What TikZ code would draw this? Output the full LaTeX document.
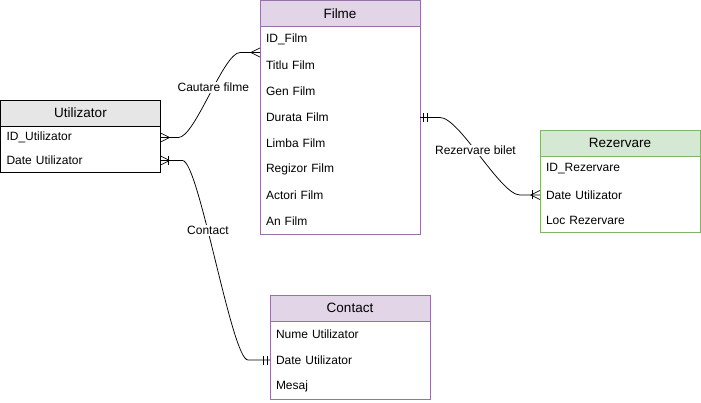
\documentclass[tikz,border=0pt]{standalone}
\usepackage{fontspec}
\setmainfont{Liberation Sans}
\usetikzlibrary{positioning,decorations.markings}

\definecolor{purpleFill}{HTML}{E1D5E7}
\definecolor{purpleLine}{HTML}{9673A6}
\definecolor{greenFill}{HTML}{D5E8D4}
\definecolor{greenLine}{HTML}{82B366}
\definecolor{greyFill}{HTML}{E6E6E6}

\tikzset{
  head/.style={draw, line width=0.75pt, minimum width=160pt, minimum height=26pt,
    inner sep=0pt, outer sep=0pt, anchor=north west, font=\fontsize{13.5}{16}\selectfont},
  row/.style={text width=148pt, inner xsep=6pt, inner ysep=0pt, outer sep=0pt,
    minimum height=26pt, align=left, font=\fontsize{12}{14}\selectfont},
  frame/.style={line width=0.75pt},
  rel/.style={line width=0.75pt},
  lbl/.style={fill=white, inner sep=1pt, font=\fontsize{12}{14}\selectfont},
  % crow's foot and bars at the ends of the relations
  manyStart/.style={postaction={decorate,decoration={markings,
    mark=at position 0.1pt with {\draw[rel] (0,4.5) -- (9,0) -- (0,-4.5);}}}},
  manyEnd/.style={postaction={decorate,decoration={markings,
    mark=at position -0.1pt with {\draw[rel] (0,4.5) -- (-9,0) -- (0,-4.5);}}}},
  oneManyStart/.style={manyStart, postaction={decorate,decoration={markings,
    mark=at position 0.1pt with {\draw[rel] (8,4.5) -- (8,-4.5);}}}},
  oneManyEnd/.style={manyEnd, postaction={decorate,decoration={markings,
    mark=at position -0.1pt with {\draw[rel] (-8,4.5) -- (-8,-4.5);}}}},
  mandOneStart/.style={postaction={decorate,decoration={markings,
    mark=at position 0.1pt with {\draw[rel] (3,4.5) -- (3,-4.5) (7,4.5) -- (7,-4.5);}}}},
  mandOneEnd/.style={postaction={decorate,decoration={markings,
    mark=at position -0.1pt with {\draw[rel] (-3,4.5) -- (-3,-4.5) (-7,4.5) -- (-7,-4.5);}}}},
}

\begin{document}
\begin{tikzpicture}[x=1pt, y=-1pt]
  \useasboundingbox (0,0) rectangle (701,403);

  % Utilizator
  \node[head, fill=greyFill] (util) at (0.5,100) {Utilizator};
  \node[row, minimum height=23pt, below=0pt of util] (utilId) {ID\_Utilizator};
  \node[row, minimum height=23pt, below=0pt of utilId] (utilDate) {Date Utilizator};
  \draw[frame] (util.north west) rectangle (utilDate.south east);

  % Filme
  \node[head, draw=purpleLine, fill=purpleFill] (filme) at (260,0.5) {Filme};
  \node[row, below=0pt of filme] (filmId) {ID\_Film};
  \node[row, below=0pt of filmId] (titlu) {Titlu Film};
  \node[row, below=0pt of titlu] (gen) {Gen Film};
  \node[row, below=0pt of gen] (durata) {Durata Film};
  \node[row, below=0pt of durata] (limba) {Limba Film};
  \node[row, below=0pt of limba] (regizor) {Regizor Film};
  \node[row, below=0pt of regizor] (actori) {Actori Film};
  \node[row, below=0pt of actori] (anFilm) {An Film};
  \draw[frame, purpleLine] (filme.north west) rectangle (anFilm.south east);

  % Rezervare
  \node[head, draw=greenLine, fill=greenFill] (rez) at (540,130) {Rezervare};
  \node[row, below=0pt of rez] (rezId) {ID\_Rezervare};
  \node[row, below=0pt of rezId] (rezDate) {Date Utilizator};
  \node[row, minimum height=24pt, below=0pt of rezDate] (rezLoc) {Loc Rezervare};
  \draw[frame, greenLine] (rez.north west) rectangle (rezLoc.south east);

  % Contact
  \node[head, draw=purpleLine, fill=purpleFill] (contact) at (270,295) {Contact};
  \node[row, below=0pt of contact] (contactNume) {Nume Utilizator};
  \node[row, below=0pt of contactNume] (contactDate) {Date Utilizator};
  \node[row, below=0pt of contactDate] (mesaj) {Mesaj};
  \draw[frame, purpleLine] (contact.north west) rectangle (mesaj.south east);

  % relations
  \draw[rel, manyStart, manyEnd] (utilId.east) -- ++(18,0)
    to[out=0, in=180, looseness=0.4] node[lbl, pos=0.56] {Cautare filme} ([xshift=-20pt]filmId.south west)
    -- (filmId.south west);
  \draw[rel, mandOneStart, oneManyEnd] (durata.east) -- ++(20,0)
    to[out=0, in=180, looseness=0.45] node[lbl, pos=0.45] {Rezervare bilet} ([xshift=-20pt]rezDate.west)
    -- (rezDate.west);
  \draw[rel, oneManyStart, mandOneEnd] (utilDate.east) -- ++(22,0)
    to[out=0, in=180, looseness=0.2] node[lbl, pos=0.4] {Contact} ([xshift=-22pt]contactDate.west)
    -- (contactDate.west);
\end{tikzpicture}
\end{document}
